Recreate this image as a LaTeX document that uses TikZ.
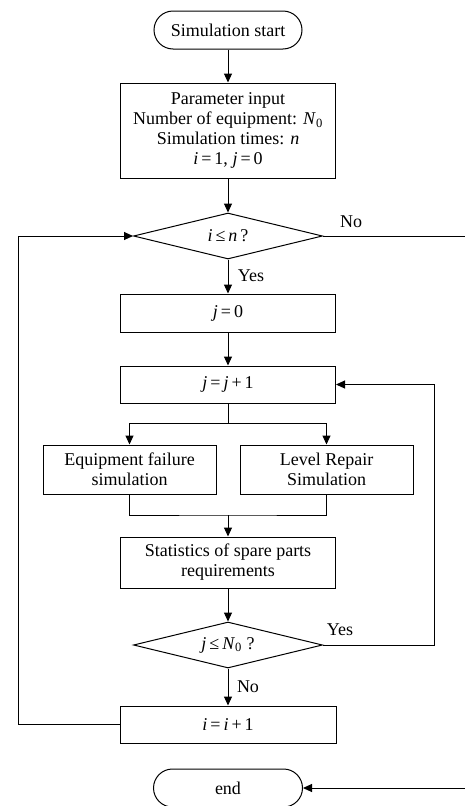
\documentclass[tikz,border=0pt]{standalone}
\usepackage{fontspec}
\setmainfont{Liberation Serif}
\usetikzlibrary{shapes.geometric,arrows.meta}
\tikzset{
  base/.style={draw, line width=1pt, inner sep=0pt, align=center, font=\fontsize{18}{20}\selectfont},
  proc/.style={base, rectangle},
  term/.style={base, rectangle, rounded corners=19pt},
  dec/.style={base, diamond, aspect=5},
  arr/.style={line width=1pt, -{Triangle[length=9pt,width=8pt]}},
  ln/.style={line width=1pt},
  lbl/.style={inner sep=0pt, font=\fontsize{18}{20}\selectfont}
}
\newcommand{\mi}[1]{\textit{#1}}
\begin{document}
\begin{tikzpicture}[x=1pt,y=-1pt]
\useasboundingbox (0,0) rectangle (465,806);
\node[term, minimum width=148pt, minimum height=38pt] (start) at (228,30) {Simulation start};
\node[proc, minimum width=215pt, minimum height=95pt] (param) at (228,130.5) {Parameter input\\Number of equipment: \mi{N}\textsubscript{0}\\Simulation times: \mi{n}\\\mi{i}\,=\,1, \mi{j}\,=\,0};
\node[dec, minimum width=189pt, minimum height=46pt] (d1) at (228,236) {\mi{i}\,≤\,\mi{n}\,?};
\node[proc, minimum width=215pt, minimum height=38pt] (j0) at (228,313) {\mi{j}\,=\,0};
\node[proc, minimum width=215pt, minimum height=37pt] (jj) at (228,384.5) {\mi{j}\,=\,\mi{j}\,+\,1};
\node[proc, minimum width=173pt, minimum height=49pt] (fail) at (129.5,469.5) {Equipment failure\\simulation};
\node[proc, minimum width=173pt, minimum height=49pt] (repair) at (326.5,469.5) {Level Repair\\Simulation};
\node[proc, minimum width=215pt, minimum height=51pt] (stats) at (228,562.5) {Statistics of spare parts\\requirements};
\node[dec, minimum width=189pt, minimum height=46pt] (d2) at (228,645) {\mi{j}\,≤\,\mi{N}\textsubscript{0} ?};
\node[proc, minimum width=216pt, minimum height=37pt] (ii) at (228,724.5) {\mi{i}\,=\,\mi{i}\,+\,1};
\node[term, minimum width=149pt, minimum height=38pt] (end) at (228,788) {end};

\coordinate (split) at (228,423);
\coordinate (merge) at (228,515);
\coordinate (rloop) at (434,645);
\coordinate (lloop) at (18,724.5);
\coordinate (outer) at (472,236);

\draw[arr] (start) -- (param);
\draw[arr] (param) -- (d1);
\draw[arr] (d1) -- (j0);
\draw[arr] (j0) -- (jj);
\draw[ln] (jj) -- (split);
\draw[arr] (split) -| (fail.north);
\draw[arr] (split) -| (repair.north);
\draw[ln] (fail.south) |- (merge) -| (repair.south);
\draw[arr] (merge) -- (stats);
\draw[arr] (stats) -- (d2);
\draw[arr] (d2.east) -- (rloop) |- (jj.east);
\draw[arr] (d2) -- (ii);
\draw[arr] (ii.west) -- (lloop) |- (d1.west);
\draw[arr] (d1.east) -- (outer) |- (end.east);

\node[lbl] (yes1) at (251,276) {Yes};
\node[lbl] (no1) at (351,222) {No};
\node[lbl] (yes2) at (340,630) {Yes};
\node[lbl] (no2) at (248,687) {No};
\end{tikzpicture}
\end{document}
